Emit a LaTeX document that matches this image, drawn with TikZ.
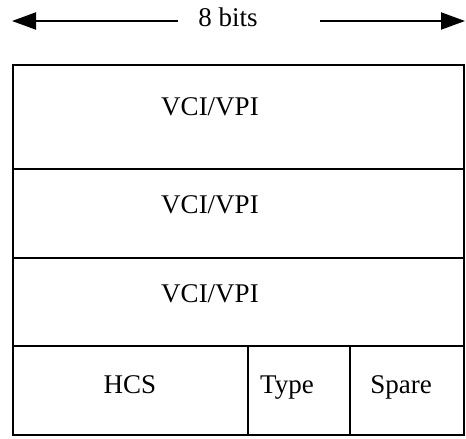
\documentclass[tikz,border=0pt]{standalone}
\usepackage{fontspec}
\setmainfont{Liberation Serif}
\usetikzlibrary{arrows.meta}
\begin{document}
\begin{tikzpicture}[x=1pt,y=-1pt,
  frame/.style={line width=2pt,line cap=rect},
  span/.style={line width=2pt,-{Triangle[length=24pt,width=17pt]}},
  field/.style={anchor=base,inner sep=0pt,font=\fontsize{27}{30}\selectfont}]
  \useasboundingbox (0,0) rectangle (466,439);

  % corners of the header layout
  \coordinate (tl) at (13,65);
  \coordinate (br) at (464,435);

  % width indicator
  \node[field] (bits) at (228,27) {8 bits};
  \coordinate (lgap) at (178,21);
  \coordinate (rgap) at (320,21);
  \coordinate (ltip) at (12,21);
  \coordinate (rtip) at (465,21);
  \draw[span] (lgap) -- (ltip);
  \draw[span] (rgap) -- (rtip);

  % outer frame and row separators
  \draw[frame] (tl) rectangle (br);
  \coordinate (r1l) at (13,169);  \coordinate (r1r) at (464,169);
  \coordinate (r2l) at (13,258);  \coordinate (r2r) at (464,258);
  \coordinate (r3l) at (13,346);  \coordinate (r3r) at (464,346);
  \draw[frame] (r1l) -- (r1r);
  \draw[frame] (r2l) -- (r2r);
  \draw[frame] (r3l) -- (r3r);

  % column separators of the last row
  \coordinate (c1t) at (248,346); \coordinate (c1b) at (248,435);
  \coordinate (c2t) at (350,346); \coordinate (c2b) at (350,435);
  \draw[frame] (c1t) -- (c1b);
  \draw[frame] (c2t) -- (c2b);

  % field labels
  \node[field] (vci1) at (210,115) {VCI/VPI};
  \node[field] (vci2) at (210,213) {VCI/VPI};
  \node[field] (vci3) at (210,302) {VCI/VPI};
  \node[field] (hcs)   at (130,393) {HCS};
  \node[field] (type)  at (287,393) {Type};
  \node[field] (spare) at (401,393) {Spare};
\end{tikzpicture}
\end{document}
